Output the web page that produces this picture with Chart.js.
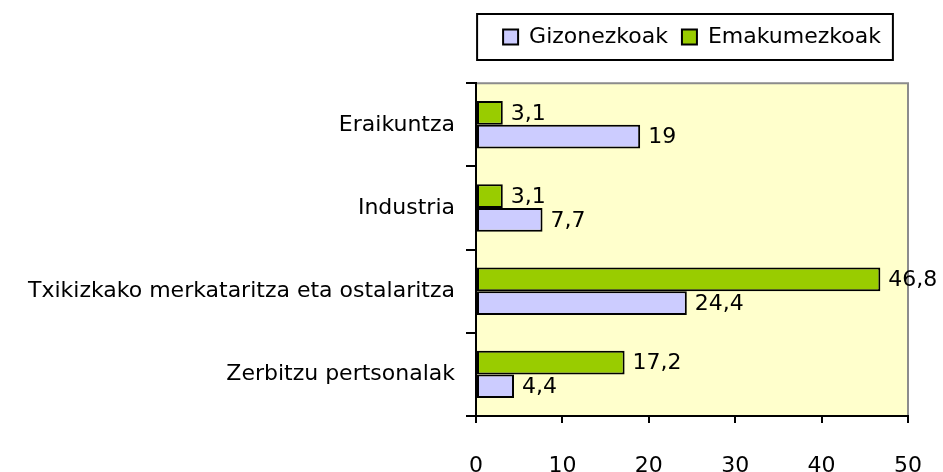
<!DOCTYPE html>
<html>
<head>
<meta charset="utf-8">
<script src="https://cdn.jsdelivr.net/npm/chart.js@4"></script>
<style>
  html, body { margin: 0; padding: 0; background: #fff; }
  #wrap { width: 943px; height: 472px; }
</style>
</head>
<body>
<div id="wrap"><canvas id="c" width="943" height="472"></canvas></div>
<script>
const categories = ['Eraikuntza', 'Industria', 'Txikizkako merkataritza eta ostalaritza', 'Zerbitzu pertsonalak'];
const gizonezkoak = [19, 7.7, 24.4, 4.4];
const emakumezkoak = [3.1, 3.1, 46.8, 17.2];
const xTicks = [0, 10, 20, 30, 40, 50];

const FONT = "'DejaVu Sans', sans-serif";
const FS = 22;

// yellow plot background + grey top/right frame
const plotBg = {
  id: 'plotBg',
  beforeDraw(chart) {
    const { ctx, chartArea: a } = chart;
    ctx.save();
    ctx.fillStyle = '#FFFFCC';
    ctx.fillRect(a.left, a.top, a.right - a.left, a.bottom - a.top);
    ctx.strokeStyle = '#8c8c8c';
    ctx.lineWidth = 2;
    ctx.beginPath();
    ctx.moveTo(a.left, a.top);
    ctx.lineTo(a.right, a.top);
    ctx.lineTo(a.right, a.bottom);
    ctx.stroke();
    ctx.restore();
  }
};

// border round the legend
const legendFrame = {
  id: 'legendFrame',
  afterDraw(chart) {
    const boxes = chart.legend.legendHitBoxes;
    if (!boxes || !boxes.length) return;
    let l = Infinity, r = -Infinity, t = Infinity, b = -Infinity;
    boxes.forEach(h => {
      l = Math.min(l, h.left); r = Math.max(r, h.left + h.width);
      t = Math.min(t, h.top); b = Math.max(b, h.top + h.height);
    });
    const cy = (t + b) / 2;
    const ctx = chart.ctx;
    ctx.save();
    ctx.strokeStyle = '#000';
    ctx.lineWidth = 2;
    ctx.strokeRect(l - 26, cy - 23, (r - l) + 38, 46);
    ctx.restore();
  }
};

// value labels at the end of each bar
const valueLabels = {
  id: 'valueLabels',
  afterDatasetsDraw(chart) {
    const ctx = chart.ctx;
    ctx.save();
    ctx.font = FS + 'px ' + FONT;
    ctx.fillStyle = '#000';
    ctx.textAlign = 'left';
    ctx.textBaseline = 'middle';
    chart.data.datasets.forEach((ds, i) => {
      chart.getDatasetMeta(i).data.forEach((bar, j) => {
        const txt = String(ds.data[j]).replace('.', ',');
        ctx.fillText(txt, bar.x + 8, bar.y + 1);
      });
    });
    ctx.restore();
  }
};

new Chart(document.getElementById('c'), {
  type: 'bar',
  data: {
    labels: categories,
    datasets: [
      {
        label: 'Emakumezkoak',
        data: emakumezkoak,
        backgroundColor: '#99CC00',
        borderColor: '#000',
        borderWidth: 2,
        borderSkipped: false,
        categoryPercentage: 0.57,
        barPercentage: 1.0
      },
      {
        label: 'Gizonezkoak',
        data: gizonezkoak,
        backgroundColor: '#CCCCFF',
        borderColor: '#000',
        borderWidth: 2,
        borderSkipped: false,
        categoryPercentage: 0.57,
        barPercentage: 1.0
      }
    ]
  },
  options: {
    indexAxis: 'y',
    responsive: false,
    animation: false,
    layout: { padding: { top: 12, right: 35, left: 0, bottom: 0 } },
    plugins: {
      legend: {
        position: 'top',
        fullSize: false,
        align: 'center',
        reverse: true,
        labels: {
          font: { family: FONT, size: FS },
          color: '#000',
          boxWidth: 15,
          boxHeight: 15,
          padding: 14,
          useBorderRadius: false,
          generateLabels(chart) {
            return chart.data.datasets.map((ds, i) => ({
              text: ds.label,
              fillStyle: ds.backgroundColor,
              strokeStyle: '#000',
              lineWidth: 2,
              datasetIndex: i,
              hidden: false
            }));
          }
        }
      },
      // empty spacer between legend and plot
      title: {
        display: true,
        text: '',
        position: 'top',
        weight: 500,
        font: { size: 1 },
        padding: { top: 0, bottom: 24 }
      },
      tooltip: { enabled: false }
    },
    scales: {
      x: {
        min: 0,
        max: 50,
        afterBuildTicks(axis) { axis.ticks = xTicks.map(v => ({ value: v })); },
        grid: { drawOnChartArea: false, color: '#000', lineWidth: 2, tickLength: 7 },
        border: { color: '#000', width: 2 },
        ticks: { font: { family: FONT, size: FS }, color: '#000', padding: 30, maxRotation: 0 },
        afterFit(axis) { axis.height = 56; axis.paddingRight = 0; axis.paddingLeft = 0; }
      },
      y: {
        grid: { drawOnChartArea: false, offset: true, color: '#000', lineWidth: 2, tickLength: 10 },
        border: { color: '#000', width: 2 },
        ticks: { font: { family: FONT, size: FS }, color: '#000', padding: 11 },
        afterFit(axis) { axis.width = 476; }
      }
    }
  },
  plugins: [plotBg, legendFrame, valueLabels]
});
</script>
</body>
</html>
